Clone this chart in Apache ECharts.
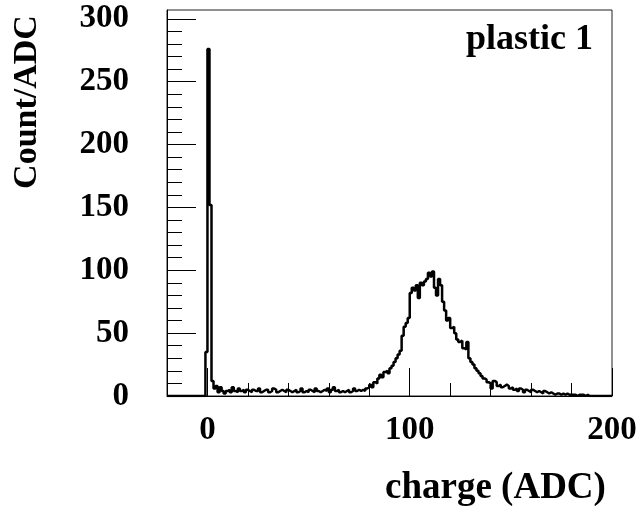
<!DOCTYPE html>
<html><head><meta charset="utf-8">
<script src="https://cdn.jsdelivr.net/npm/echarts@6/dist/echarts.min.js"></script>
<style>html,body{margin:0;padding:0;background:#fff}#c{width:641px;height:506px}</style>
</head><body><div id="c"></div>
<script>
// Histogram: bins of width 1 ADC starting at -20
const binStart = -20;
const binWidth = 1;
const counts = [
  0,0,0,0,0,0,0,0,0,0,0,0,0,0,0,0,0,0,0,
  35,276,152,12,6,8,3,7,4,2,4,5,3,7,4,3,6,4,5,3,5,
  4,3,5,4,4,6,3,4,5,5,3,4,6,5,3,4,5,4,3,5,
  4,3,4,5,3,4,6,3,4,3,5,4,3,6,4,3,4,5,4,6,
  3,5,7,4,5,3,4,3,4,5,3,4,6,4,5,4,5,4,6,7,
  9,7,11,10,14,17,15,19,20,18,22,24,27,30,33,36,48,55,58,62,
  82,86,84,88,78,90,88,91,93,98,95,99,86,80,93,88,75,68,60,62,
  54,55,50,45,43,44,38,37,43,30,27,25,22,20,18,16,14,13,11,10,
  6,12,11,8,9,7,8,9,8,6,7,5,6,4,6,5,3,5,4,3,
  5,4,3,4,3,2,4,3,2,3,2,1,2,2,1,2,1,2,1,1,
  1,1,0,1,1,1,0,1,0,0,0,0,0,0,0,0,0,0,0,0
];
const xMajorTicks = [0, 100, 200];
const xMinorTicks = [20, 40, 60, 80, 120, 140, 160, 180];
const yMajorTicks = [0, 50, 100, 150, 200, 250, 300];
const yMinorTicks = [10,20,30,40,60,70,80,90,110,120,130,140,160,170,180,190,210,220,230,240,260,270,280,290];
const xRange = [-20, 200];
const yRange = [0, 307];
const xTitle = 'charge (ADC)';
const yTitle = 'Count/ADC';
const label = 'plastic 1';

const data = counts.map((c, i) => [binStart + i * binWidth, c]);
data.push([binStart + counts.length * binWidth, counts[counts.length - 1]]);

const font = 'Liberation Serif';
const chart = echarts.init(document.getElementById('c'), null, {renderer: 'canvas'});
chart.setOption({
  animation: false,
  backgroundColor: '#fff',
  grid: {left: 167, right: 29, top: 10, bottom: 110, show: true, borderColor: '#222', borderWidth: 1, backgroundColor: 'transparent'},
  xAxis: [{
    type: 'value', min: xRange[0], max: xRange[1], position: 'bottom',
    axisLine: {show: true, onZero: false, lineStyle: {color: '#000', width: 1}},
    axisTick: {show: true, inside: true, length: 13, customValues: xMinorTicks, lineStyle: {color: '#000', width: 1}},
    axisLabel: {customValues: xMajorTicks, color: '#000', fontFamily: font, fontWeight: 'bold', fontSize: 33, margin: 18},
    splitLine: {show: false}
  }, {
    type: 'value', min: xRange[0], max: xRange[1], position: 'bottom', offset: 0,
    axisLine: {show: false, onZero: false},
    axisTick: {show: true, inside: true, length: 28, customValues: xMajorTicks, lineStyle: {color: '#000', width: 1}},
    axisLabel: {show: false},
    splitLine: {show: false}
  }],
  yAxis: [{
    type: 'value', min: yRange[0], max: yRange[1], position: 'left',
    axisLine: {show: true, onZero: false, lineStyle: {color: '#000', width: 1}},
    axisTick: {show: true, inside: true, length: 29, customValues: yMajorTicks, lineStyle: {color: '#000', width: 1}},
    axisLabel: {customValues: yMajorTicks, color: '#000', fontFamily: font, fontWeight: 'bold', fontSize: 33, margin: 38},
    splitLine: {show: false}
  }, {
    type: 'value', min: yRange[0], max: yRange[1], position: 'left', offset: 0,
    axisLine: {show: false, onZero: false},
    axisTick: {show: true, inside: true, length: 15, customValues: yMinorTicks, lineStyle: {color: '#000', width: 1}},
    axisLabel: {show: false},
    splitLine: {show: false}
  }],
  graphic: [
    {type: 'text', left: 385, top: 470, style: {text: xTitle, font: 'bold 37px "Liberation Serif"', fill: '#000'}},
    {type: 'text', x: 27, y: 102, rotation: Math.PI / 2, style: {text: yTitle, font: 'bold 34px "Liberation Serif"', fill: '#000', align: 'center', verticalAlign: 'middle'}},
    {type: 'text', right: 48, top: 22, style: {text: label, font: 'bold 36px "Liberation Serif"', fill: '#000'}}
  ],
  series: [{
    type: 'line', step: 'end', data: data, xAxisIndex: 0, yAxisIndex: 0,
    showSymbol: false, symbol: 'none', clip: true,
    lineStyle: {color: '#000', width: 2.5}
  }]
});
</script></body></html>
